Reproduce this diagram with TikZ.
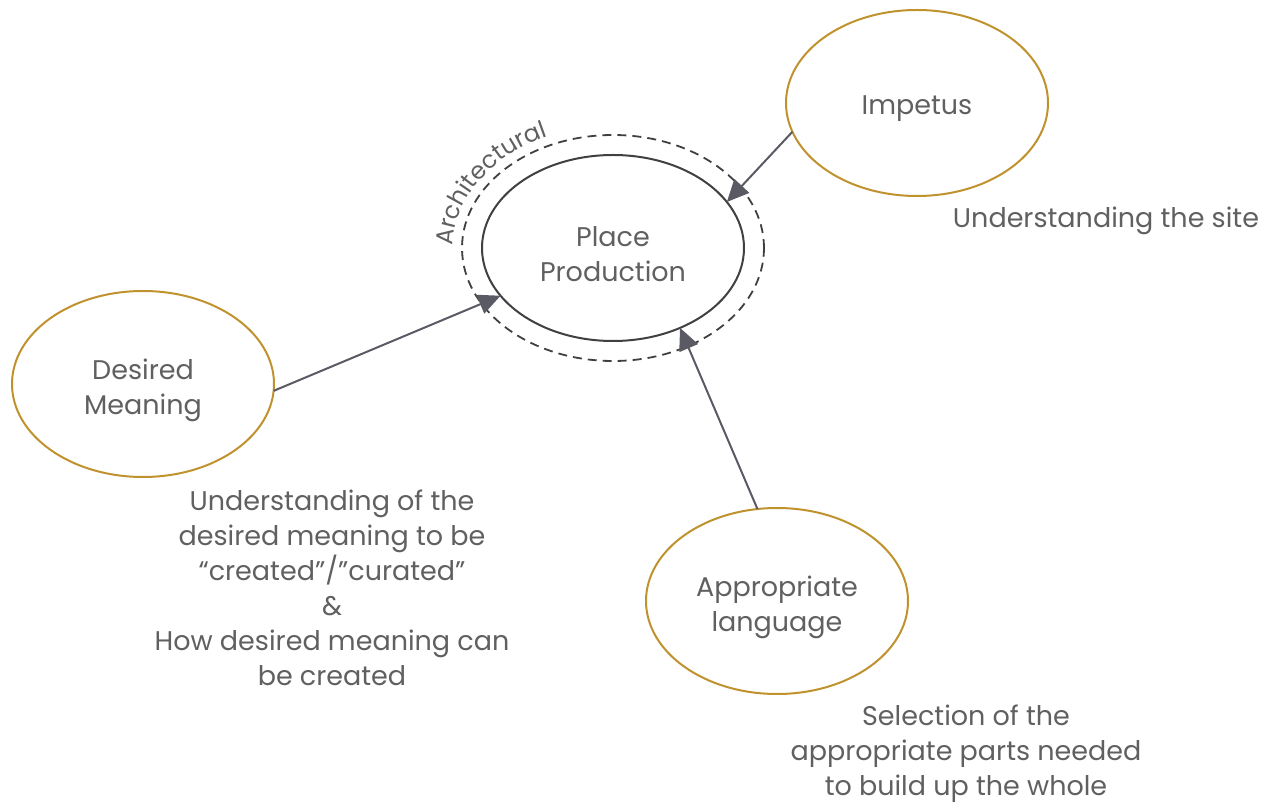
\documentclass[tikz,border=0pt]{standalone}
\usepackage{fontspec}
\setmainfont{Poppins}
\usetikzlibrary{arrows.meta,shapes.geometric,decorations.text}
\definecolor{gold}{HTML}{C0922E}
\definecolor{ink}{HTML}{606060}
\definecolor{wire}{HTML}{5A5A64}
\definecolor{rim}{HTML}{404040}
\tikzset{
  concept/.style={ellipse, draw=gold, line width=2pt, minimum width=262pt, minimum height=186pt,
    inner sep=0pt, outer sep=0pt},
  core/.style={concept, draw=rim},
  note/.style={text=ink, font=\fontsize{27}{35}\selectfont, align=center, inner sep=0pt},
  inside/.style={note, yshift=-6pt},
  link/.style={draw=wire, line width=2pt, -{Triangle[length=22pt,width=20pt]}},
}
\begin{document}
\begin{tikzpicture}[x=1pt,y=1pt]
\useasboundingbox (0,0) rectangle (1270,804);

% central concept with its dashed architectural ring
\node[core, label={[inside]center:Place\\Production}] (pp) at (613,556) {};
\node[ellipse, draw=rim, dashed, dash pattern=on 9pt off 6pt, line width=1.8pt,
  minimum width=302pt, minimum height=226pt, inner sep=0pt] (ring) at (613,556) {};
\path[decorate, decoration={text along path, text color=ink,
  text={|\fontsize{24}{24}\selectfont|Architectural}}]
  (613,556) ++(179:160 and 122) arc[start angle=179, end angle=80, x radius=160, y radius=122];

% surrounding concepts
\node[concept, label={[inside]center:Impetus}] (imp) at (917,701) {};
\node[concept, label={[inside]center:Desired\\Meaning}] (des) at (143,420) {};
\node[concept, label={[inside]center:Appropriate\\language}] (app) at (777,203) {};

% explanatory notes
\node[note] (impnote) at (1106,583) {Understanding the site};
\node[note] (desnote) at (332,216) {Understanding of the\\desired meaning to be\\“created”/”curated”\\\&\\How desired meaning can\\be created};
\node[note] (appnote) at (966,50) {Selection of the\\appropriate parts needed\\to build up the whole};

% influences on place production
\draw[link] (imp.193.8) -- (pp.22.7);
\draw[link] (des.-3) -- (pp.203.4);
\draw[link] (app.102.4) -- (pp.310.7);
\end{tikzpicture}
\end{document}
